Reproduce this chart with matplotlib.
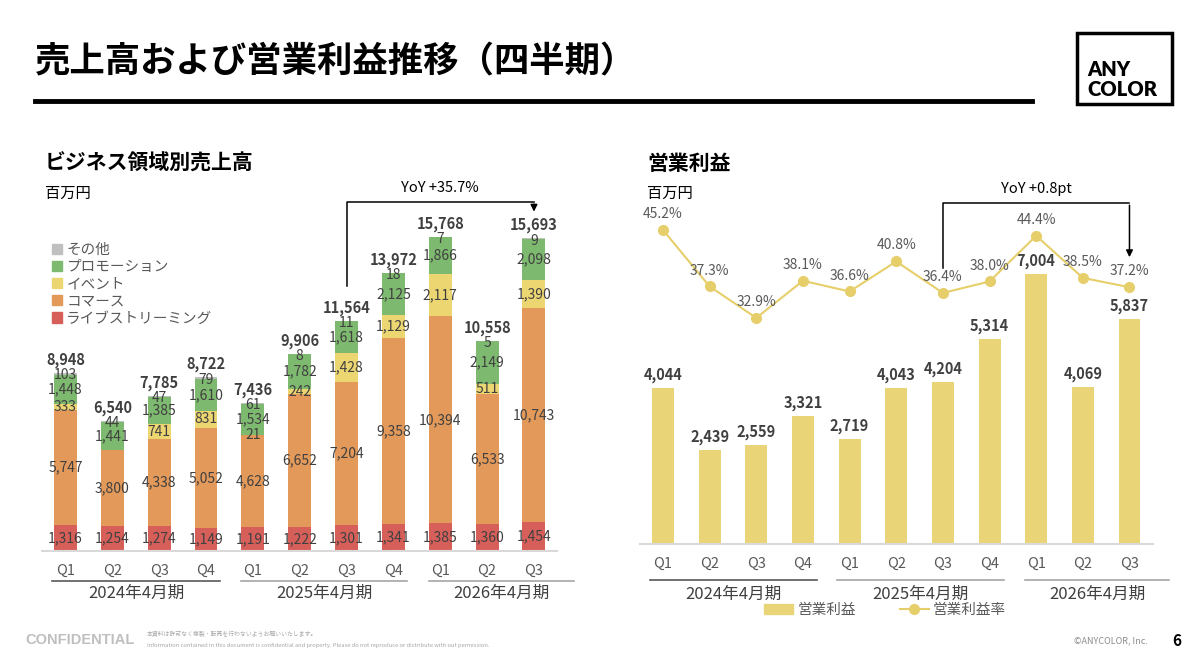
import numpy as np
import matplotlib
matplotlib.use('Agg')
from matplotlib import pyplot as plt
from matplotlib.patches import Patch, Rectangle
from matplotlib.lines import Line2D

plt.rcParams['font.family'] = ['Noto Sans CJK JP', 'DejaVu Sans']

# data
quarters = ['Q1', 'Q2', 'Q3', 'Q4', 'Q1', 'Q2', 'Q3', 'Q4', 'Q1', 'Q2', 'Q3']
fiscal_years = ['2024年4月期', '2025年4月期', '2026年4月期']
segment_names = ['ライブストリーミング', 'コマース', 'イベント', 'プロモーション', 'その他']
live = [1316, 1254, 1274, 1149, 1191, 1222, 1301, 1341, 1385, 1360, 1454]
commerce = [5747, 3800, 4338, 5052, 4628, 6652, 7204, 9358, 10394, 6533, 10743]
event = [333, 0, 741, 831, 21, 242, 1428, 1129, 2117, 511, 1390]
promo = [1448, 1441, 1385, 1610, 1534, 1782, 1618, 2125, 1866, 2149, 2098]
other = [103, 44, 47, 79, 61, 8, 11, 18, 7, 5, 9]
sales_total = [8948, 6540, 7785, 8722, 7436, 9906, 11564, 13972, 15768, 10558, 15693]
op_profit = [4044, 2439, 2559, 3321, 2719, 4043, 4204, 5314, 7004, 4069, 5837]
op_margin = [45.2, 37.3, 32.9, 38.1, 36.6, 40.8, 36.4, 38.0, 44.4, 38.5, 37.2]

seg_colors = ['#d75f5a', '#e2995a', '#ecd672', '#7db96e', '#bfbfbf']
bar_yellow = '#e9d577'
line_yellow = '#e6cf6b'
txt = '#404040'
txt2 = '#595959'

fig = plt.figure(figsize=(12, 6.65), dpi=100)
x = np.arange(len(quarters))

# ---------------- header ----------------
fig.text(35 / 1200, 1 - 62 / 665, '売上高および営業利益推移（四半期）', fontsize=25.5,
         fontweight='bold', color='black', va='center', ha='left')
fig.add_artist(Line2D([35 / 1200, 1032 / 1200], [1 - 101 / 665] * 2, color='black', lw=3.5))
fig.add_artist(Rectangle((1077 / 1200, 1 - 104 / 665), 95 / 1200, 71 / 665,
                         fill=False, ec='black', lw=2.5))
fig.text(1087 / 1200, 1 - 69 / 665, 'ANY', fontsize=14.5, fontweight='heavy',
         family='Lato', va='center', ha='left')
fig.text(1087 / 1200, 1 - 89 / 665, 'COLOR', fontsize=14.5, fontweight='heavy',
         family='Lato', va='center', ha='left')


def group_axis(ax, h_px, line_off, text_off):
    spans = [(-0.28, 3.3), (3.74, 7.3), (7.76, 10.85)]
    shades = [txt2, '#a6a6a6', '#a6a6a6']
    tr = ax.get_xaxis_transform()
    for (a, b), name, c in zip(spans, fiscal_years, shades):
        ax.add_line(Line2D([a, b], [-line_off / h_px] * 2, transform=tr, color=c,
                           lw=1.2, clip_on=False))
        ax.text((a + b) / 2, -text_off / h_px, name, transform=tr, ha='center',
                va='center', fontsize=12, color=txt)


def style(ax):
    for s in ['top', 'right', 'left']:
        ax.spines[s].set_visible(False)
    ax.spines['bottom'].set_color('#d9d9d9')
    ax.spines['bottom'].set_linewidth(1.5)
    ax.set_yticks([])
    ax.set_xticks(x)
    ax.set_xticklabels(quarters, fontsize=10.5, color=txt2)
    ax.tick_params(axis='x', length=0, pad=9.5)
    ax.set_xlim(-0.5, 10.5)


# ---------------- left: sales ----------------
hl = 361
ax1 = fig.add_axes([42 / 1200, 114 / 665, 515.4 / 1200, hl / 665])
style(ax1)
ax1.set_ylim(0, hl / 0.019914)
bottom = np.zeros(len(x))
for vals, col, name in zip([live, commerce, event, promo, other], seg_colors, segment_names):
    vals = np.array(vals, dtype=float)
    ax1.bar(x, vals, 0.49, bottom=bottom, color=col, label=name)
    if name != 'その他':
        for xi, b, v in zip(x, bottom, vals):
            if v > 0:
                ax1.text(xi, b + v / 2, f'{int(v):,}', ha='center', va='center',
                         fontsize=10, color=txt)
    bottom += vals
for xi, t, o in zip(x, sales_total, other):
    ax1.annotate(f'{t:,}', (xi, t), xytext=(0, 9.4), textcoords='offset points',
                 ha='center', va='center', fontsize=10.5, fontweight='bold', color=txt)
    ax1.annotate(f'{o:,}', (xi, t), xytext=(0, -1.8), textcoords='offset points',
                 ha='center', va='center', fontsize=10, color=txt)
group_axis(ax1, hl, 30, 42)

handles = [Patch(color=c) for c in seg_colors][::-1]
ax1.legend(handles, segment_names[::-1], loc='upper left', frameon=False,
           bbox_to_anchor=(46 / 1200, 1 - 237 / 665), bbox_transform=fig.transFigure,
           fontsize=10.5, handlelength=0.7, handleheight=0.7, handletextpad=0.3,
           labelspacing=0.22, labelcolor=txt2, borderaxespad=0)

# YoY bracket
y_lo, y_hi, y_tip = 13300, 17525, 16900
ax1.plot([6, 6, 10], [y_lo, y_hi, y_hi], color='black', lw=1.1, clip_on=False)
ax1.annotate('', xy=(10, y_tip), xytext=(10, y_hi + 30),
             arrowprops=dict(arrowstyle='-|>', color='black', lw=1.1, mutation_scale=10))
ax1.annotate('YoY +35.7%', (8, y_hi), xytext=(0, 10), textcoords='offset points',
             ha='center', va='center', fontsize=10.5, color='black')

fig.text(45 / 1200, 1 - 163 / 665, 'ビジネス領域別売上高', fontsize=15, fontweight='bold',
         va='center', ha='left', color='black')
fig.text(45 / 1200, 1 - 193 / 665, '百万円', fontsize=11, va='center', ha='left', color='black')

# ---------------- right: operating profit ----------------
hr = 354
ax2 = fig.add_axes([639.7 / 1200, 121 / 665, 513.1 / 1200, hr / 665])
style(ax2)
ax2.set_ylim(0, hr / 0.03855)
ax2.bar(x, op_profit, 0.47, color=bar_yellow)
for xi, v in zip(x, op_profit):
    ax2.annotate(f'{v:,}', (xi, v), xytext=(0, 9.4), textcoords='offset points',
                 ha='center', va='center', fontsize=10.5, fontweight='bold', color=txt)
group_axis(ax2, hr, 36, 50)

ax3 = ax2.twinx()
ax3.set_position(ax2.get_position())
lo = 45.2 - (544 - 230) / 7.15
ax3.set_ylim(lo, lo + hr / 7.15)
ax3.axis('off')
ax3.plot(x, op_margin, color=line_yellow, lw=1.5, marker='o', markersize=7)
for xi, v in zip(x, op_margin):
    ax3.annotate(f'{v:.1f}%', (xi, v), xytext=(0, 11.5), textcoords='offset points',
                 ha='center', va='center', fontsize=10, color=txt2)

y_lo2, y_hi2, y_tip2 = 7160, 8846, 7367
ax2.plot([6, 6, 10], [y_lo2, y_hi2, y_hi2], color='black', lw=1.1, clip_on=False)
ax2.annotate('', xy=(10, y_tip2), xytext=(10, y_hi2 + 15),
             arrowprops=dict(arrowstyle='-|>', color='black', lw=1.1, mutation_scale=10))
ax2.annotate('YoY +0.8pt', (8, y_hi2), xytext=(0, 10), textcoords='offset points',
             ha='center', va='center', fontsize=10.5, color='black')

fig.text(647 / 1200, 1 - 163 / 665, '営業利益', fontsize=15, fontweight='bold',
         va='center', ha='left', color='black')
fig.text(647 / 1200, 1 - 193 / 665, '百万円', fontsize=11, va='center', ha='left', color='black')

leg_handles = [Patch(color=bar_yellow),
               Line2D([], [], color=line_yellow, lw=1.5, marker='o', markersize=7)]
fig.legend(leg_handles, ['営業利益', '営業利益率'], loc='center', ncol=2, frameon=False,
           bbox_to_anchor=(885 / 1200, 1 - 610 / 665), fontsize=10.5, labelcolor=txt2,
           handlelength=2.0, handletextpad=0.3, columnspacing=3.0)

# ---------------- footer ----------------
fig.text(25 / 1200, 1 - 640 / 665, 'CONFIDENTIAL', fontsize=10.5, fontweight='bold',
         family='Liberation Sans', color='#bfbfbf', va='center', ha='left')
fig.text(147 / 1200, 1 - 634 / 665, '本資料は許可なく複製・転売を行わないようお願いいたします。',
         fontsize=4.2, color='#a6a6a6', va='center', ha='left')
fig.text(147 / 1200, 1 - 645 / 665,
         'Information contained in this document is confidential and property. '
         'Please do not reproduce or distribute with out permission.',
         fontsize=4.2, color='#a6a6a6', va='center', ha='left')
fig.text(1148 / 1200, 1 - 641 / 665, '©ANYCOLOR, Inc.', fontsize=6.5, color='#8c8c8c',
         va='center', ha='right')
fig.text(1177 / 1200, 1 - 641 / 665, '6', fontsize=11, fontweight='bold', color='black',
         va='center', ha='center')

fig.savefig('out.png', dpi=100)
